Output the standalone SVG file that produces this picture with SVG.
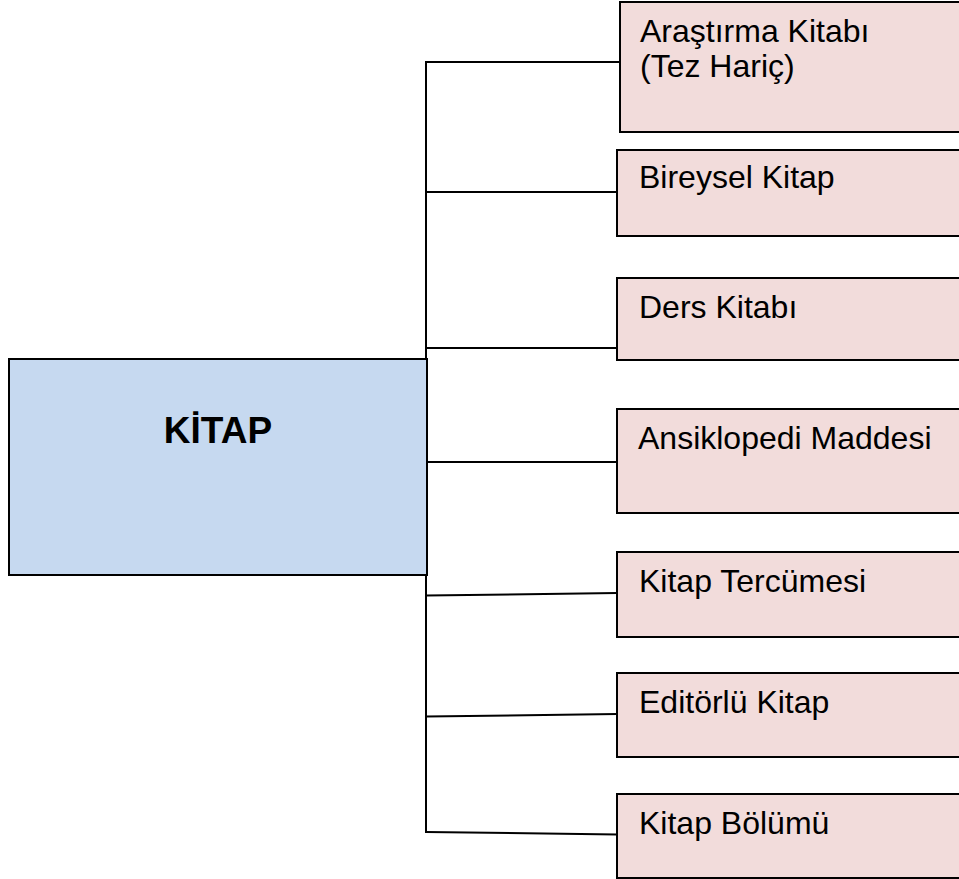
<svg xmlns="http://www.w3.org/2000/svg" width="959" height="879" viewBox="0 0 959 879">
<style>
.root{fill:#c6d9f0;stroke:#000;stroke-width:2}
.leaf{fill:#f2dcdb;stroke:#000;stroke-width:2}
.lbl{font-family:"Liberation Sans",Arial,sans-serif;font-size:32px;fill:#000}
.title{font-family:"Liberation Sans",Arial,sans-serif;font-size:37px;font-weight:bold;fill:#000}
.conn{stroke:#000;stroke-width:2;fill:none}
</style>
<rect width="959" height="879" fill="#fff"/>
<g id="connectors">
<line class="conn" x1="426" y1="61" x2="426" y2="833"/>
<line class="conn" x1="426" y1="62" x2="620" y2="62"/>
<line class="conn" x1="426" y1="192" x2="617" y2="192"/>
<line class="conn" x1="426" y1="348" x2="617" y2="348"/>
<line class="conn" x1="426" y1="462" x2="617" y2="462"/>
<line class="conn" x1="426" y1="595.5" x2="617" y2="593"/>
<line class="conn" x1="426" y1="716.5" x2="617" y2="714"/>
<line class="conn" x1="426" y1="832" x2="617" y2="834.5"/>
</g>
<g id="kitap">
<rect class="root" x="9" y="359" width="418" height="216"/>
<text class="title" x="218" y="443" text-anchor="middle">KİTAP</text>
</g>
<g id="arastirma">
<rect class="leaf" x="620" y="2" width="345" height="130"/>
<text class="lbl" x="640" y="42">Araştırma Kitabı</text>
<text class="lbl" x="640" y="77">(Tez Hariç)</text>
</g>
<g id="bireysel">
<rect class="leaf" x="617" y="150" width="348" height="86"/>
<text class="lbl" x="639" y="188">Bireysel Kitap</text>
</g>
<g id="ders">
<rect class="leaf" x="617" y="278" width="348" height="82"/>
<text class="lbl" x="639" y="318">Ders Kitabı</text>
</g>
<g id="ansiklopedi">
<rect class="leaf" x="617" y="409" width="348" height="104"/>
<text class="lbl" x="638" y="449">Ansiklopedi Maddesi</text>
</g>
<g id="tercume">
<rect class="leaf" x="617" y="552" width="348" height="85"/>
<text class="lbl" x="639" y="592">Kitap Tercümesi</text>
</g>
<g id="editorlu">
<rect class="leaf" x="617" y="673" width="348" height="84"/>
<text class="lbl" x="639" y="713">Editörlü Kitap</text>
</g>
<g id="bolum">
<rect class="leaf" x="617" y="794" width="348" height="84"/>
<text class="lbl" x="639" y="834">Kitap Bölümü</text>
</g>
</svg>
